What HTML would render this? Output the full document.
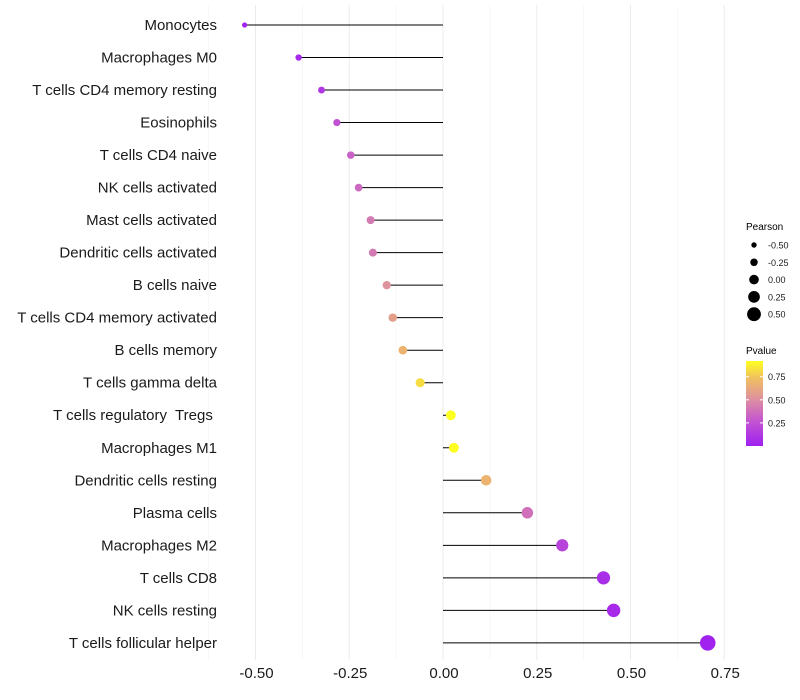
<!DOCTYPE html>
<html><head><meta charset="utf-8"><style>
body{margin:0;background:#fff;font-family:"Liberation Sans",sans-serif}
svg{display:block}
text{white-space:pre}
</style></head><body>
<svg id="chart" width="800" height="700">
<defs><linearGradient id="pg" x1="0" y1="1" x2="0" y2="0">
<stop offset="0" stop-color="#a020f0"/><stop offset="0.3" stop-color="#c456d0"/><stop offset="0.55" stop-color="#de90a0"/><stop offset="0.8" stop-color="#f0c060"/><stop offset="1" stop-color="#ffff20"/>
</linearGradient></defs>
<g id="grid"></g><g id="marks"></g><g id="axes"></g><g id="legend"></g>
</svg>
<script>
const categories=["Monocytes","Macrophages M0","T cells CD4 memory resting","Eosinophils","T cells CD4 naive","NK cells activated","Mast cells activated","Dendritic cells activated","B cells naive","T cells CD4 memory activated","B cells memory","T cells gamma delta","T cells regulatory  Tregs ","Macrophages M1","Dendritic cells resting","Plasma cells","Macrophages M2","T cells CD8","NK cells resting","T cells follicular helper"];
const pearson=[-0.529,-0.385,-0.324,-0.283,-0.246,-0.225,-0.193,-0.187,-0.150,-0.134,-0.107,-0.061,0.021,0.029,0.115,0.225,0.318,0.428,0.455,0.706];
const pvalue=[0.02,0.05,0.12,0.25,0.32,0.35,0.42,0.42,0.52,0.58,0.68,0.82,0.95,0.93,0.68,0.38,0.18,0.07,0.05,0.01];
const xTicks=[-0.5,-0.25,0,0.25,0.5,0.75];
const xTickLabels=["-0.50","-0.25","0.00","0.25","0.50","0.75"];
const sizeLegend=[-0.5,-0.25,0,0.25,0.5];
const sizeLegendLabels=["-0.50","-0.25","0.00","0.25","0.50"];
const pLegend=[0.25,0.5,0.75];
const pLegendLabels=["0.25","0.50","0.75"];
const NS="http://www.w3.org/2000/svg";
const x=v=>443+v*375;
const y=i=>25+i*32.52;
const r=v=>Math.max(1.8,4.8+4.2*v);
const stops=[[0,[160,32,240]],[0.3,[196,86,208]],[0.55,[222,144,160]],[0.8,[240,192,96]],[1,[255,255,32]]];
function col(p){p=Math.min(1,p/0.92);for(let i=1;i<stops.length;i++){if(p<=stops[i][0]){const a=stops[i-1],b=stops[i],t=(p-a[0])/(b[0]-a[0]);return "rgb("+a[1].map((c,k)=>Math.round(c+(b[1][k]-c)*t)).join(",")+")";}}return "rgb(255,255,32)";}
function mk(t,at,parent){const e=document.createElementNS(NS,t);for(const k in at)e.setAttribute(k,at[k]);parent.appendChild(e);return e;}
const grid=document.getElementById('grid'),marks=document.getElementById('marks'),axes=document.getElementById('axes'),legend=document.getElementById('legend');
for(let v=-0.625;v<=0.76;v+=0.125){const g=mk('line',{x1:x(v),x2:x(v),y1:5,y2:660,stroke:Math.abs((v/0.25)-Math.round(v/0.25))<0.01?'#ebebeb':'#f4f4f4','stroke-width':Math.abs((v/0.25)-Math.round(v/0.25))<0.01?1:0.6},grid);

}
categories.forEach((c,i)=>{
const l=mk('line',{x1:x(0),x2:x(pearson[i]),y1:y(i),y2:y(i),stroke:'#000','stroke-width':1},marks);


const p=mk('circle',{cx:x(pearson[i]),cy:y(i),r:r(pearson[i]),fill:col(pvalue[i])},marks);


const t=mk('text',{x:217,y:y(i)+5,'text-anchor':'end','font-size':15,fill:'#1a1a1a'},axes);t.textContent=c;


});
xTicks.forEach((v,i)=>{const t=mk('text',{x:x(v)+1,y:678,'text-anchor':'middle','font-size':15,fill:'#1a1a1a'},axes);t.textContent=xTickLabels[i];

});
let t=mk('text',{x:746,y:230,'font-size':10,fill:'#000'},legend);t.textContent='Pearson';


sizeLegend.forEach((v,i)=>{const cy=245+i*17.3;const c=mk('circle',{cx:754,cy:cy,r:r(v),fill:'#000'},legend);


const tt=mk('text',{x:768,y:cy+3.5,'font-size':9,fill:'#1a1a1a'},legend);tt.textContent=sizeLegendLabels[i];

});
t=mk('text',{x:746,y:354,'font-size':10,fill:'#000'},legend);t.textContent='Pvalue';


const bar=mk('rect',{x:746,y:361,width:17,height:85,fill:'url(#pg)'},legend);


const py=p=>446-p/0.92*85;
pLegend.forEach((v,i)=>{const tt=mk('text',{x:768,y:py(v)+3.5,'font-size':9,fill:'#1a1a1a'},legend);tt.textContent=pLegendLabels[i];


mk('line',{x1:746,x2:749,y1:py(v),y2:py(v),stroke:'#fff'},legend);mk('line',{x1:760,x2:763,y1:py(v),y2:py(v),stroke:'#fff'},legend);});
</script>
</body></html>
